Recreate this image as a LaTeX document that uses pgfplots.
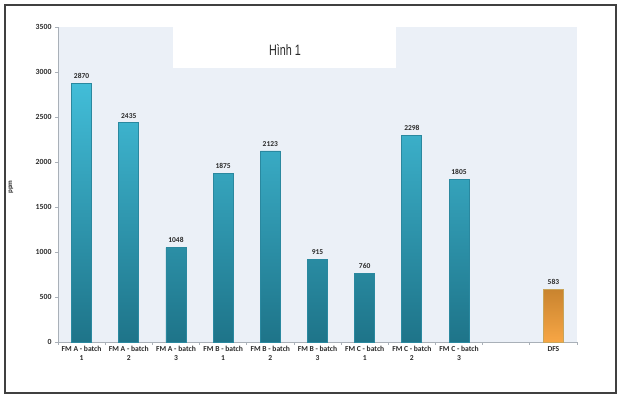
\documentclass[border=0pt]{standalone}
\usepackage{pgfplots}
\pgfplotsset{compat=1.18}
\usepackage{fontspec}
\setmainfont{Carlito}
\newfontfamily\titlefont[FakeStretch=0.72]{Liberation Sans}
\definecolor{bgcol}{HTML}{EBF0F7}
\definecolor{cyantop}{HTML}{42BDD8}
\definecolor{cyanbot}{HTML}{1E7489}
\definecolor{cyanedge}{HTML}{2A889F}
\definecolor{orgtop}{HTML}{C9842F}
\definecolor{orgbot}{HTML}{F7A645}
\definecolor{orgedge}{HTML}{C9A55A}
\definecolor{axcol}{HTML}{A9B0B8}
\definecolor{txt}{HTML}{2A2A2A}
\begin{document}
\begin{tikzpicture}[x=1pt,y=1pt]
\path[use as bounding box] (0,0) rectangle (621,398);
\begin{axis}[
  at={(58pt,56pt)}, anchor=south west,
  scale only axis, width=519pt, height=315pt,
  xmin=-0.5, xmax=10.5, ymin=0, ymax=3500,
  axis x line*=bottom, axis y line*=left,
  axis line style={color=axcol, line width=0.9pt, -},
  axis background/.style={fill=bgcol},
  /pgf/number format/1000 sep={},
  /pgf/number format/assume math mode=true,
  ytick={0,500,...,3500},
  tick align=outside, major tick length=3pt,
  tick style={color=axcol, line width=0.8pt},
  yticklabel style={font=\bfseries\fontsize{7.8}{8}\selectfont, color=txt},
  xtick={-0.5,0.5,...,10.5}, xticklabels={},
  extra x ticks={0,1,2,3,4,5,6,7,8,10},
  extra x tick labels={{FM A - batch\\1},{FM A - batch\\2},{FM A - batch\\3},{FM B - batch\\1},{FM B - batch\\2},{FM B - batch\\3},{FM C - batch\\1},{FM C - batch\\2},{FM C - batch\\3},{DFS}},
  extra x tick style={major tick length=0pt, xticklabel style={align=center, font=\bfseries\fontsize{7.6}{9.5}\selectfont, color=txt, yshift=-0.5pt}},
  bar width=20pt,
  nodes near coords,
  nodes near coords style={font=\bfseries\fontsize{7.5}{8}\selectfont, color=txt, yshift=1pt},
  clip=false,
]
\addplot[ybar, bar shift=0pt, draw=cyanedge, line width=0.8pt, top color=cyantop, bottom color=cyanbot]
  coordinates {(0,2870) (1,2435) (2,1048) (3,1875) (4,2123) (5,915) (6,760) (7,2298) (8,1805)};
\addplot[ybar, bar shift=0pt, draw=orgedge, line width=0.8pt, top color=orgtop, bottom color=orgbot]
  coordinates {(10,583)};
\end{axis}
\fill[white] (173,330) rectangle (396,372);
\node[font=\titlefont\fontsize{15}{16}\selectfont, color=txt] at (285,348) {Hình 1};
\node[rotate=90, font=\bfseries\fontsize{7}{7}\selectfont, color=txt] at (11,211) {ppm};
\draw[line width=1.2pt, color=black!75] (5,5) rectangle (616,393);
\end{tikzpicture}
\end{document}
